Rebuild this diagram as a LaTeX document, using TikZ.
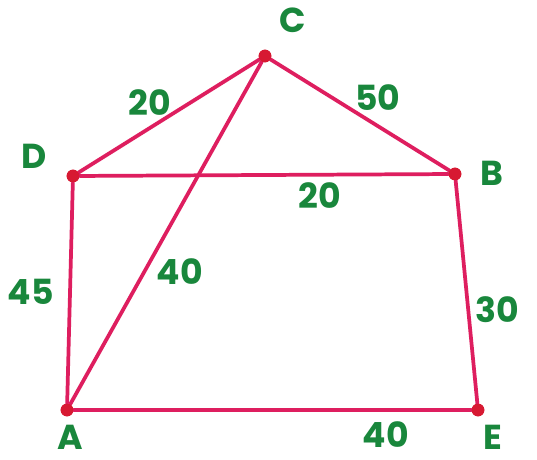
\documentclass[tikz,border=0pt]{standalone}
\usepackage{fontspec}
\setmainfont{Poppins}
\definecolor{edgepink}{RGB}{222,30,95}
\definecolor{dotred}{RGB}{215,25,50}
\definecolor{labgreen}{RGB}{25,135,60}
\begin{document}
\begin{tikzpicture}[x=0.75pt,y=-0.75pt,
  vert/.style={circle,fill=dotred,inner sep=0pt,minimum size=9.5pt},
  edge/.style={draw=edgepink,line width=2.8pt,line cap=round},
  lab/.style={text=labgreen,font=\fontsize{26}{28}\selectfont\bfseries,inner sep=0pt}]
\fill[white] (0,0) rectangle (537,460);
\useasboundingbox (0,0) rectangle (537,460);
\node[vert] (C) at (265,56) {};
\node[vert] (D) at (73,176) {};
\node[vert] (B) at (455,174) {};
\node[vert] (A) at (67,410) {};
\node[vert] (E) at (478,410) {};
\draw[edge] (D) -- (C) -- (B) -- (E) -- (A) -- (D) -- (B);
\draw[edge] (A) -- (C);
\node[vert] at (C) {};
\node[vert] at (D) {};
\node[vert] at (B) {};
\node[vert] at (A) {};
\node[vert] at (E) {};
\node[lab] (lC) at (293,20) {C};
\node[lab] (lD) at (34,156) {D};
\node[lab] (lB) at (492,173) {B};
\node[lab] (lA) at (70,437) {A};
\node[lab] (lE) at (493,437) {E};
\node[lab] (eDC) at (150,103) {20};
\node[lab] (eCB) at (378,98) {50};
\node[lab] (eDB) at (320,196) {20};
\node[lab] (eDA) at (31,292) {45};
\node[lab] (eAC) at (180,272) {40};
\node[lab] (eBE) at (497,310) {30};
\node[lab] (eAE) at (386,435) {40};
\end{tikzpicture}
\end{document}
